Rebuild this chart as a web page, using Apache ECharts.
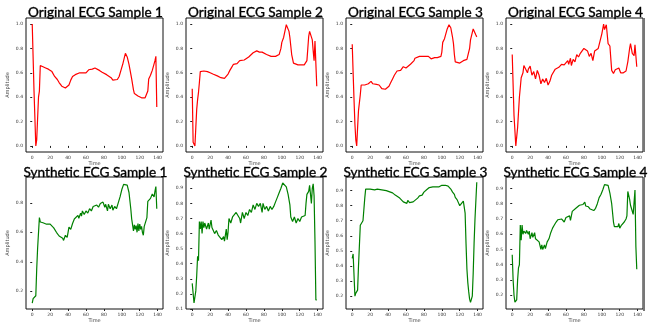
<!DOCTYPE html>
<html lang="en" style="height: 100%">
<head>
  <meta charset="UTF-8" />
  <title>ECG samples</title>
  <script src="https://cdn.jsdelivr.net/npm/echarts@6/dist/echarts.min.js"></script>
</head>
<body style="height: 100%; margin: 0; background: #fff">
  <div id="main" style="width: 655px; height: 324px"></div>
  <script type="text/javascript">
    // titles
    var titles = [
      'Original ECG Sample 1', 'Original ECG Sample 2', 'Original ECG Sample 3', 'Original ECG Sample 4',
      'Synthetic ECG Sample 1', 'Synthetic ECG Sample 2', 'Synthetic ECG Sample 3', 'Synthetic ECG Sample 4'
    ];

    // tick labels
    var xTicks = [0, 20, 40, 60, 80, 100, 120, 140];
    var yTicksOrig = [0.0, 0.2, 0.4, 0.6, 0.8, 1.0];
    var yTicksSyn1 = [0.2, 0.4, 0.6, 0.8];
    var yTicksSyn2 = [0.1, 0.2, 0.3, 0.4, 0.5, 0.6, 0.7, 0.8, 0.9];
    var yTicksSyn3 = [0.2, 0.3, 0.4, 0.5, 0.6, 0.7, 0.8, 0.9];
    var yTicksSyn4 = [0.2, 0.3, 0.4, 0.5, 0.6, 0.7, 0.8, 0.9];

    // series values [time, amplitude]
    var original1 = [[0,1.0],[2,0.45],[4,0.0],[5,0.05],[7,0.40],[8,0.45],[9,0.66],[10,0.655],[12,0.65],[15,0.64],[18,0.63],[20,0.625],[22,0.61],[25,0.57],[28,0.545],[30,0.52],[33,0.49],[35,0.48],[37,0.475],[39,0.48],[41,0.50],[43,0.54],[45,0.57],[48,0.585],[50,0.59],[53,0.60],[55,0.61],[57,0.60],[60,0.60],[62,0.605],[63,0.625],[65,0.62],[67,0.63],[69,0.625],[70,0.64],[72,0.625],[75,0.62],[78,0.605],[80,0.60],[83,0.585],[85,0.58],[88,0.56],[90,0.54],[92,0.535],[95,0.545],[97,0.57],[99,0.62],[101,0.67],[103,0.73],[104,0.76],[106,0.73],[108,0.67],[109,0.63],[111,0.55],[113,0.46],[114,0.43],[116,0.415],[118,0.41],[120,0.40],[122,0.395],[124,0.40],[126,0.395],[128,0.41],[129,0.45],[130,0.55],[132,0.58],[133,0.60],[134,0.62],[136,0.625],[137,0.70],[138,0.735],[139,0.32]];
    var original2 = [[0,0.47],[1,0.03],[3,0.0],[4,0.15],[5,0.30],[6,0.38],[7,0.44],[8,0.52],[9,0.61],[11,0.62],[13,0.615],[15,0.62],[17,0.61],[20,0.60],[23,0.59],[25,0.58],[28,0.575],[30,0.565],[32,0.56],[34,0.55],[36,0.555],[38,0.57],[40,0.59],[42,0.62],[44,0.645],[46,0.67],[48,0.68],[50,0.675],[52,0.685],[53,0.70],[55,0.71],[58,0.705],[60,0.715],[63,0.73],[65,0.74],[68,0.765],[70,0.775],[72,0.78],[75,0.77],[78,0.77],[80,0.765],[83,0.75],[85,0.745],[88,0.735],[90,0.74],[93,0.735],[95,0.74],[97,0.75],[99,0.80],[100,0.85],[102,0.89],[104,0.96],[105,0.995],[107,0.98],[108,0.94],[109,0.89],[110,0.82],[111,0.75],[113,0.68],[115,0.665],[118,0.665],[120,0.67],[122,0.665],[123,0.655],[125,0.665],[127,0.67],[128,0.70],[129,0.80],[130,0.90],[131,0.94],[133,0.93],[134,0.87],[135,0.78],[136,0.70],[137,0.86],[138,0.855],[139,0.49]];
    var original3 = [[0,0.835],[1,0.60],[2,0.38],[3,0.18],[4,0.05],[5,0.0],[6,0.15],[7,0.29],[8,0.30],[9,0.42],[10,0.50],[12,0.505],[14,0.50],[16,0.51],[18,0.51],[20,0.52],[21,0.53],[23,0.51],[25,0.495],[27,0.505],[30,0.50],[32,0.485],[33,0.47],[35,0.47],[37,0.465],[39,0.47],[41,0.49],[43,0.52],[45,0.55],[47,0.58],[48,0.59],[50,0.615],[52,0.625],[54,0.62],[56,0.635],[57,0.65],[58,0.635],[60,0.64],[62,0.655],[65,0.67],[67,0.685],[69,0.70],[70,0.72],[72,0.725],[75,0.735],[77,0.73],[80,0.735],[82,0.725],[85,0.735],[87,0.725],[88,0.715],[90,0.73],[92,0.725],[95,0.725],[97,0.72],[99,0.735],[100,0.77],[101,0.85],[103,0.88],[104,0.89],[106,0.96],[108,0.995],[110,0.97],[111,0.93],[112,0.89],[113,0.84],[114,0.75],[115,0.69],[117,0.68],[120,0.68],[122,0.695],[124,0.70],[126,0.70],[128,0.71],[130,0.72],[131,0.80],[132,0.87],[133,0.875],[134,0.88],[135,0.96],[137,0.97],[138,0.91],[139,0.895]];
    var original4 = [[0,0.75],[2,0.25],[4,0.0],[6,0.15],[8,0.40],[10,0.56],[12,0.60],[13,0.66],[15,0.65],[17,0.60],[18,0.63],[20,0.655],[22,0.58],[24,0.61],[26,0.55],[28,0.62],[30,0.58],[32,0.51],[34,0.55],[36,0.52],[38,0.555],[40,0.50],[42,0.53],[44,0.58],[46,0.565],[48,0.63],[50,0.62],[52,0.645],[55,0.67],[58,0.665],[60,0.675],[62,0.70],[63,0.67],[65,0.72],[66,0.66],[68,0.71],[70,0.69],[72,0.75],[74,0.73],[76,0.76],[78,0.77],[80,0.80],[82,0.805],[84,0.78],[86,0.735],[88,0.76],[90,0.70],[92,0.78],[94,0.765],[96,0.80],[98,0.81],[100,0.92],[102,1.0],[103,0.955],[105,0.995],[107,0.84],[109,0.82],[111,0.62],[113,0.595],[115,0.625],[117,0.61],[119,0.64],[121,0.60],[124,0.60],[127,0.615],[129,0.69],[131,0.80],[132,0.84],[134,0.76],[136,0.74],[137,0.83],[138,0.82],[139,0.65]];
    var synthetic1 = [[0,0.12],[1,0.15],[3,0.16],[4,0.17],[5,0.35],[6,0.49],[7,0.49],[8,0.70],[9,0.67],[10,0.68],[12,0.665],[14,0.67],[16,0.655],[18,0.66],[20,0.655],[22,0.665],[24,0.63],[26,0.64],[27,0.60],[29,0.61],[30,0.575],[32,0.58],[34,0.56],[35,0.545],[37,0.58],[39,0.565],[40,0.60],[41,0.635],[43,0.62],[45,0.66],[47,0.69],[49,0.70],[51,0.715],[52,0.695],[54,0.73],[55,0.71],[56,0.745],[58,0.72],[60,0.745],[62,0.73],[64,0.76],[66,0.745],[68,0.775],[70,0.77],[72,0.785],[74,0.77],[76,0.795],[78,0.785],[79,0.805],[81,0.77],[82,0.79],[84,0.745],[85,0.79],[87,0.76],[89,0.785],[90,0.75],[92,0.775],[94,0.76],[96,0.80],[98,0.84],[100,0.89],[102,0.925],[104,0.935],[106,0.92],[108,0.87],[110,0.76],[111,0.69],[112,0.65],[113,0.61],[114,0.65],[115,0.62],[116,0.645],[117,0.60],[118,0.66],[119,0.61],[120,0.655],[121,0.62],[122,0.64],[123,0.60],[124,0.58],[125,0.64],[126,0.65],[128,0.70],[129,0.81],[131,0.80],[132,0.83],[133,0.82],[134,0.86],[135,0.87],[136,0.84],[137,0.88],[138,0.91],[139,0.76]];
    var synthetic2 = [[0,0.27],[1,0.26],[2,0.14],[3,0.15],[4,0.22],[5,0.32],[6,0.45],[7,0.42],[8,0.68],[9,0.63],[10,0.68],[11,0.60],[12,0.68],[13,0.64],[14,0.67],[16,0.63],[18,0.67],[19,0.63],[21,0.69],[22,0.64],[24,0.64],[25,0.60],[27,0.62],[29,0.59],[31,0.58],[33,0.56],[35,0.58],[36,0.55],[38,0.63],[39,0.56],[40,0.61],[41,0.70],[43,0.67],[45,0.71],[47,0.71],[49,0.74],[51,0.72],[53,0.70],[54,0.67],[56,0.74],[58,0.70],[60,0.74],[62,0.72],[64,0.76],[66,0.74],[68,0.79],[70,0.76],[72,0.80],[74,0.78],[76,0.80],[78,0.74],[79,0.80],[81,0.76],[83,0.78],[85,0.75],[87,0.78],[89,0.76],[91,0.78],[93,0.81],[95,0.84],[97,0.87],[99,0.90],[101,0.935],[103,0.93],[105,0.91],[107,0.86],[109,0.79],[110,0.71],[112,0.68],[114,0.71],[116,0.67],[118,0.70],[120,0.68],[122,0.71],[124,0.70],[126,0.72],[127,0.80],[128,0.86],[130,0.88],[131,0.92],[132,0.91],[133,0.80],[134,0.90],[135,0.93],[136,0.85],[137,0.55],[138,0.16],[139,0.16]];
    var synthetic3 = [[0,0.45],[1,0.48],[2,0.47],[3,0.20],[4,0.22],[5,0.22],[6,0.24],[7,0.40],[9,0.67],[10,0.67],[12,0.70],[14,0.85],[15,0.91],[17,0.915],[20,0.91],[22,0.915],[25,0.905],[28,0.91],[30,0.90],[33,0.905],[35,0.895],[38,0.90],[40,0.89],[45,0.885],[48,0.87],[50,0.865],[53,0.85],[55,0.84],[57,0.825],[59,0.835],[61,0.815],[62,0.835],[64,0.82],[66,0.83],[68,0.825],[70,0.835],[73,0.85],[75,0.865],[78,0.87],[80,0.89],[83,0.905],[86,0.92],[88,0.915],[90,0.925],[93,0.925],[95,0.93],[97,0.925],[100,0.935],[104,0.935],[107,0.93],[110,0.91],[112,0.89],[114,0.875],[115,0.855],[117,0.84],[118,0.83],[119,0.85],[120,0.80],[121,0.81],[122,0.79],[124,0.83],[125,0.835],[126,0.75],[127,0.55],[128,0.38],[129,0.29],[130,0.23],[131,0.18],[132,0.16],[133,0.155],[134,0.20],[135,0.35],[136,0.55],[137,0.71],[138,0.72],[139,0.955]];
    var synthetic4 = [[0,0.465],[1,0.30],[2,0.20],[3,0.155],[4,0.15],[5,0.17],[6,0.30],[7,0.38],[8,0.40],[9,0.66],[10,0.56],[11,0.66],[12,0.60],[13,0.62],[15,0.605],[16,0.625],[18,0.60],[19,0.62],[20,0.57],[22,0.61],[23,0.58],[25,0.61],[26,0.57],[28,0.57],[30,0.55],[31,0.56],[32,0.50],[33,0.53],[34,0.50],[36,0.53],[37,0.505],[39,0.55],[41,0.57],[43,0.61],[45,0.64],[47,0.66],[49,0.68],[51,0.695],[53,0.69],[55,0.70],[57,0.705],[58,0.68],[60,0.71],[62,0.71],[64,0.72],[65,0.69],[67,0.75],[69,0.75],[71,0.77],[73,0.76],[75,0.79],[77,0.80],[79,0.795],[81,0.81],[82,0.785],[83,0.78],[85,0.78],[87,0.765],[89,0.775],[91,0.755],[93,0.77],[95,0.80],[97,0.84],[99,0.86],[101,0.89],[103,0.925],[105,0.935],[107,0.92],[109,0.87],[111,0.80],[113,0.68],[114,0.65],[116,0.66],[118,0.65],[119,0.67],[120,0.64],[122,0.66],[124,0.65],[125,0.68],[126,0.67],[127,0.70],[128,0.72],[129,0.88],[130,0.87],[131,0.83],[132,0.79],[133,0.77],[134,0.76],[135,0.73],[136,0.72],[137,0.89],[138,0.52],[139,0.37]];

    var seriesData = [original1, original2, original3, original4, synthetic1, synthetic2, synthetic3, synthetic4];
    var yTicks = [yTicksOrig, yTicksOrig, yTicksOrig, yTicksOrig, yTicksSyn1, yTicksSyn2, yTicksSyn3, yTicksSyn4];
    var yRanges = [[-0.05, 1.05], [-0.05, 1.05], [-0.05, 1.05], [-0.05, 1.05],
                   [0.08, 0.975], [0.10, 0.975], [0.115, 0.99], [0.11, 0.975]];

    var myChart = echarts.init(document.getElementById('main'));

    var colLeft = [26, 186, 346, 506];
    var rowTop = [18, 177];
    var gw = 137, gh = 134;

    var grid = [], xAxis = [], yAxis = [], series = [], title = [];
    for (var i = 0; i < 8; i++) {
      var c = i % 4, r = Math.floor(i / 4);
      grid.push({
        left: colLeft[c], top: rowTop[r], width: gw, height: gh,
        show: true, borderColor: '#111', borderWidth: 1, backgroundColor: '#fff'
      });
      title.push({
        text: titles[i],
        left: colLeft[c] + gw / 2 - 4, top: r === 0 ? 1 : 161,
        textAlign: 'center',
        textStyle: {
          fontFamily: 'Lato', fontSize: 13.6, fontWeight: 'normal', color: '#000',
          textBorderColor: '#000', textBorderWidth: 0.35
        }
      });
      xAxis.push({
        type: 'value', gridIndex: i, min: -6.95, max: 145.95,
        name: 'Time', nameLocation: 'middle', nameGap: 9,
        nameTextStyle: { fontSize: 5, color: '#444', fontFamily: 'DejaVu Sans' },
        splitLine: { show: false },
        axisLine: { show: false },
        axisTick: { show: true, length: 2, lineStyle: { color: '#222' }, customValues: xTicks },
        axisLabel: { fontSize: 4.5, color: '#333', margin: 3, fontFamily: 'DejaVu Sans', customValues: xTicks }
      });
      yAxis.push({
        type: 'value', gridIndex: i, min: yRanges[i][0], max: yRanges[i][1],
        name: 'Amplitude', nameLocation: 'middle', nameGap: 16, nameRotate: 90,
        nameTextStyle: { fontSize: 5, color: '#444', fontFamily: 'DejaVu Sans' },
        splitLine: { show: false },
        axisLine: { show: false },
        axisTick: { show: true, length: 2, lineStyle: { color: '#222' }, customValues: yTicks[i] },
        axisLabel: {
          fontSize: 4.5, color: '#333', margin: 3, fontFamily: 'DejaVu Sans', customValues: yTicks[i],
          formatter: function (v) { return v.toFixed(1); }
        }
      });
      series.push({
        type: 'line', xAxisIndex: i, yAxisIndex: i, data: seriesData[i],
        showSymbol: false, animation: false,
        lineStyle: { color: r === 0 ? '#ff0000' : '#008000', width: 1.2 }
      });
    }

    var option = {
      backgroundColor: '#fff',
      animation: false,
      title: title,
      grid: grid,
      xAxis: xAxis,
      yAxis: yAxis,
      series: series,
      // heavier right edge on the last column, as in the source figure
      graphic: [
        { type: 'line', shape: { x1: colLeft[3] + gw + 1, y1: rowTop[0], x2: colLeft[3] + gw + 1, y2: rowTop[0] + gh }, style: { stroke: '#777', lineWidth: 2 }, z: 10 },
        { type: 'line', shape: { x1: colLeft[3] + gw + 1, y1: rowTop[1], x2: colLeft[3] + gw + 1, y2: rowTop[1] + gh }, style: { stroke: '#777', lineWidth: 2 }, z: 10 }
      ]
    };
    myChart.setOption(option);
    window.addEventListener('resize', myChart.resize);
  </script>
</body>
</html>
